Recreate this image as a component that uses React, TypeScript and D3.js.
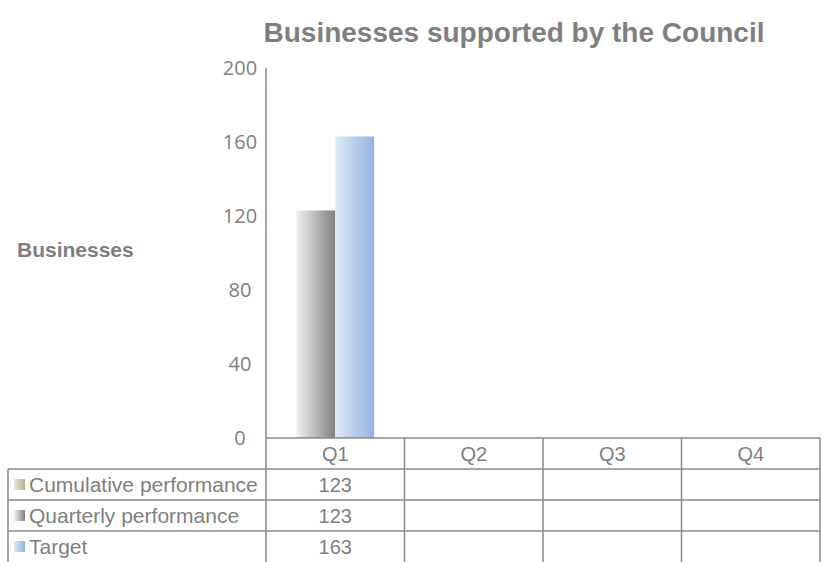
import { useEffect, useRef } from "react";
import * as d3 from "d3";

const quarters = ["Q1", "Q2", "Q3", "Q4"];
const seriesNames = ["Cumulative performance", "Quarterly performance", "Target"];
const cumulative: (number | null)[] = [123, null, null, null];
const quarterly: (number | null)[] = [123, null, null, null];
const target: (number | null)[] = [163, null, null, null];
const yTicks = [0, 40, 80, 120, 160, 200];

// only these series get bars in the plot
const barSeries = ["Quarterly performance", "Target"];

const App = () => {
  const svgRef = useRef<SVGSVGElement | null>(null);

  useEffect(() => {
    drawChart();
  }, []);

  const drawChart = () => {
    const w = 822;
    const h = 562;
    const left = 266;
    const right = 820;
    const top = 68;
    const bottom = 438;
    const rowH = 31;
    const tableLeft = 8;
    const grey = "#898989";
    const textCol = "#7f7f7f";

    const svg = d3.select(svgRef.current).attr("width", w).attr("height", h);
    svg.selectAll("*").remove();

    const defs = svg.append("defs");
    const grad = (id: string, from: string, to: string) => {
      const g = defs.append("linearGradient").attr("id", id).attr("x1", "0").attr("x2", "1").attr("y1", "0").attr("y2", "0");
      g.append("stop").attr("offset", "0%").attr("stop-color", from);
      g.append("stop").attr("offset", "100%").attr("stop-color", to);
    };
    grad("g-cum", "#ebe8d8", "#b8b190");
    grad("g-qtr", "#f2f2f2", "#808080");
    grad("g-tgt", "#dfe8f6", "#93b3e3");
    const fills: Record<string, string> = {
      "Cumulative performance": "url(#g-cum)",
      "Quarterly performance": "url(#g-qtr)",
      Target: "url(#g-tgt)",
    };
    const values: Record<string, (number | null)[]> = {
      "Cumulative performance": cumulative,
      "Quarterly performance": quarterly,
      Target: target,
    };

    const x = d3.scaleBand().domain(quarters).range([left, right]);
    const xInner = d3.scaleBand().domain(barSeries).range([0, x.bandwidth()]).paddingOuter(0.78);
    const y = d3.scaleLinear().domain([0, 200]).range([bottom, top]);

    // title
    svg.append("text")
      .attr("x", 514).attr("y", 42)
      .attr("text-anchor", "middle")
      .style("font-family", "Liberation Sans, Arial, sans-serif")
      .style("font-weight", "bold").style("font-size", "28px")
      .attr("fill", textCol)
      .text("Businesses supported by the Council");

    // axis title
    svg.append("text")
      .attr("x", 17).attr("y", 257)
      .style("font-family", "Liberation Sans, Arial, sans-serif")
      .style("font-weight", "bold").style("font-size", "21px")
      .attr("fill", textCol)
      .text("Businesses");

    // y tick labels
    svg.append("g").selectAll("text").data(yTicks).join("text")
      .attr("x", 240).attr("y", (d) => y(d) + 7)
      .attr("text-anchor", "middle")
      .style("font-family", "Open Sans, sans-serif").style("font-size", "20px")
      .attr("fill", textCol)
      .text((d) => d);

    // bars
    const bars = svg.append("g");
    barSeries.forEach((s) => {
      bars.selectAll(`.b-${s.replace(/\s/g, "")}`)
        .data(quarters.map((q, i) => ({ q, v: values[s][i] })).filter((d) => d.v != null))
        .join("rect")
        .attr("x", (d) => (x(d.q) as number) + (xInner(s) as number))
        .attr("width", xInner.bandwidth())
        .attr("y", (d) => y(d.v as number))
        .attr("height", (d) => bottom - y(d.v as number))
        .attr("fill", fills[s]);
    });

    // axis line
    svg.append("line").attr("x1", left).attr("x2", left).attr("y1", top).attr("y2", bottom)
      .attr("stroke", grey).attr("stroke-width", 1.5);

    // data table
    const tableBottom = bottom + rowH * (seriesNames.length + 1) + 2;
    const lines = svg.append("g").attr("stroke", grey).attr("stroke-width", 1.5);
    lines.append("line").attr("x1", left).attr("x2", right).attr("y1", bottom).attr("y2", bottom);
    seriesNames.forEach((_, i) => {
      const yy = bottom + rowH * (i + 1);
      lines.append("line").attr("x1", tableLeft).attr("x2", right).attr("y1", yy).attr("y2", yy);
    });
    lines.append("line").attr("x1", tableLeft).attr("x2", tableLeft).attr("y1", bottom + rowH).attr("y2", tableBottom);
    [...quarters.map((q) => x(q) as number), right].forEach((xx) => {
      lines.append("line").attr("x1", xx).attr("x2", xx).attr("y1", bottom).attr("y2", tableBottom);
    });

    const tFont = "Liberation Sans, Arial, sans-serif";
    svg.append("g").selectAll("text").data(quarters).join("text")
      .attr("x", (d) => (x(d) as number) + x.bandwidth() / 2)
      .attr("y", bottom + 23)
      .attr("text-anchor", "middle")
      .style("font-family", tFont).style("font-size", "20px")
      .attr("fill", textCol)
      .text((d) => d);

    seriesNames.forEach((s, i) => {
      const rowTop = bottom + rowH * (i + 1);
      svg.append("rect")
        .attr("x", 14).attr("y", rowTop + 10).attr("width", 11).attr("height", 11)
        .attr("fill", fills[s]);
      svg.append("text")
        .attr("x", 29).attr("y", rowTop + 23)
        .style("font-family", tFont).style("font-size", "21px")
        .attr("fill", textCol)
        .text(s);
      svg.append("g").selectAll("text")
        .data(quarters.map((q, j) => ({ q, v: values[s][j] })).filter((d) => d.v != null))
        .join("text")
        .attr("x", (d) => (x(d.q) as number) + x.bandwidth() / 2)
        .attr("y", rowTop + 23)
        .attr("text-anchor", "middle")
        .style("font-family", tFont).style("font-size", "20px")
        .attr("fill", textCol)
        .text((d) => String(d.v));
    });
  };

  return <svg ref={svgRef} style={{ position: "absolute", left: 0, top: 0 }}></svg>;
};

export default App;
